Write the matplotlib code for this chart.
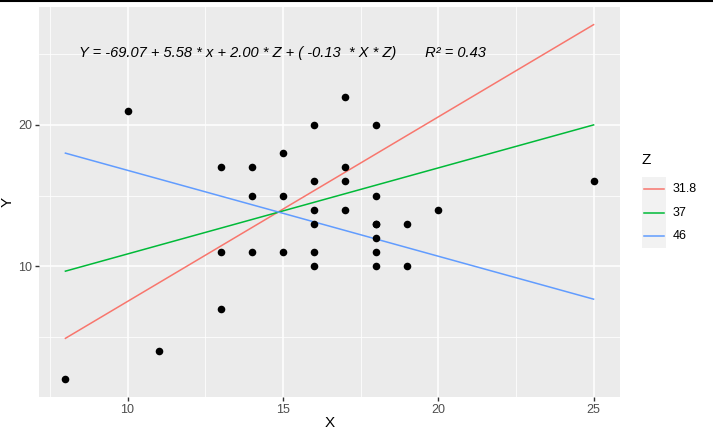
import matplotlib
matplotlib.use("Agg")
import matplotlib.pyplot as plt
from matplotlib.lines import Line2D
from matplotlib.patches import Rectangle
import numpy as np

plt.rcParams['font.family'] = ['Liberation Sans', 'DejaVu Sans']

# Data
x_vals = [8, 10, 11, 13, 14, 15, 16, 14, 15, 16, 16, 16, 13, 14, 15, 16, 16, 13,
          17, 18, 17, 17, 18, 17, 18, 20, 25, 18, 19, 18, 18, 19, 18]
y_vals = [2, 21, 4, 17, 17, 18, 20, 15, 15, 16, 14, 13, 11, 11, 11, 11, 10, 7,
          22, 20, 17, 16, 15, 14, 13, 14, 16, 13, 13, 12, 11, 10, 10]

z_levels = ["31.8", "37", "46"]
line_intercepts = [-5.55, 4.78, 22.87]
line_slopes = [1.306, 0.609, -0.608]
line_colors = ["#F8766D", "#00BA38", "#619CFF"]
x_range = [8, 25]

eq_text = "Y = -69.07 + 5.58 * x + 2.00 * Z + ( -0.13  * X * Z)       R² = 0.43"

W, H = 713, 438
fig = plt.figure(figsize=(W / 100, H / 100), dpi=100)
ax = fig.add_axes([39 / W, (H - 397) / H, 581 / W, 390 / H])
ax.set_facecolor("#EBEBEB")

ax.set_xlim(7.15, 25.85)
ax.set_ylim(0.745, 28.35)
ax.set_xticks([10, 15, 20, 25])
ax.set_yticks([10, 20])
ax.set_xticks([7.5, 12.5, 17.5, 22.5], minor=True)
ax.set_yticks([5, 15, 25], minor=True)
ax.grid(which="major", color="white", linewidth=1.1)
ax.grid(which="minor", color="white", linewidth=0.55)
ax.set_axisbelow(True)
for s in ax.spines.values():
    s.set_visible(False)
ax.tick_params(which="major", length=3, width=1, color="#333333",
               labelcolor="#4D4D4D", labelsize=9, pad=2)
ax.tick_params(which="minor", length=0)

xs = np.array(x_range, dtype=float)
for b0, b1, c in zip(line_intercepts, line_slopes, line_colors):
    ax.plot(xs, b0 + b1 * xs, color=c, linewidth=1.1, zorder=2)

ax.scatter(x_vals, y_vals, s=30, color="black", zorder=3, linewidths=0)

ax.text(15, 25.1, eq_text, ha="center", va="center", fontsize=10.5,
        style="italic", color="black")

ax.set_xlabel("X", fontsize=11)
ax.set_ylabel("Y", fontsize=11)
ax.xaxis.set_label_coords(0.5, (397 - 423) / 390)
ax.yaxis.set_label_coords((8 - 39) / 581, 0.5)
ax.xaxis.label.set_va("center")
ax.yaxis.label.set_va("center")

# Legend (manual, ggplot style)
fig.text(642 / W, 1 - 160 / H, "Z", fontsize=11, ha="left", va="center")
key_top = 177
key_h = 23.7
fig.add_artist(Rectangle((642 / W, 1 - (key_top + 3 * key_h) / H), 24 / W, 3 * key_h / H,
                         transform=fig.transFigure, facecolor="#F2F2F2", edgecolor="none"))
for i, (lab, c) in enumerate(zip(z_levels, line_colors)):
    yc = key_top + key_h * (i + 0.5)
    fig.add_artist(Line2D([644 / W, 664 / W], [1 - yc / H, 1 - yc / H],
                          transform=fig.transFigure, color=c, linewidth=1.1))
    fig.text(673 / W, 1 - yc / H, lab, fontsize=9, ha="left", va="center", color="black")

# top border line
fig.add_artist(Line2D([0, 1], [1 - 0.8 / H, 1 - 0.8 / H], transform=fig.transFigure,
                      color="black", linewidth=1.5))

fig.savefig("out.png", dpi=100)
